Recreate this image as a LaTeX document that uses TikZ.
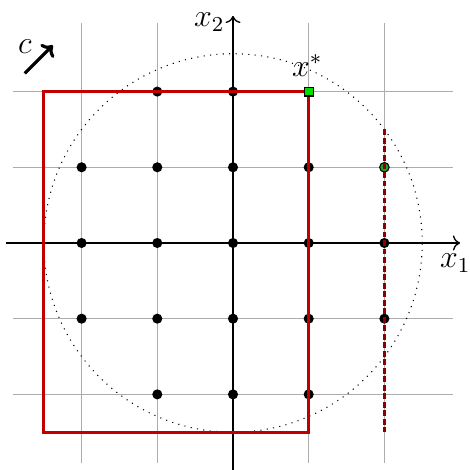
\documentclass[tikz,border=0pt]{standalone}
\usetikzlibrary{arrows.meta}
\definecolor{rectred}{HTML}{C00000}
\definecolor{dashred}{HTML}{8B0000}
\definecolor{ptgreen}{HTML}{00DD00}
\definecolor{ptgreendk}{HTML}{22A022}
\tikzset{
  gridline/.style={draw=gray!65, line width=0.4pt},
  axisline/.style={draw=black, line width=0.5pt, ->},
  ptdot/.style={circle, fill=black, inner sep=0pt, minimum size=3.8pt},
  feasrect/.style={draw=rectred, line width=1.1pt},
  cutline/.style={draw=dashred, line width=1.2pt, dash pattern=on 2.2pt off 1pt},
  ballcircle/.style={draw=black, line width=0.4pt, dotted},
  optsq/.style={rectangle, fill=ptgreen, draw=black, line width=0.4pt, inner sep=0pt, minimum size=3.3pt},
  optcirc/.style={circle, fill=ptgreendk, draw=black, line width=0.4pt, inner sep=0pt, minimum size=3.6pt},
  lbl/.style={font=\large, inner sep=1pt},
  carrow/.style={draw=black, line width=1.2pt, -{To[length=3.5pt,width=7pt]}}
}
\begin{document}
\begin{tikzpicture}
\useasboundingbox (-3.078,-2.999) rectangle (3.118,3.210);
% grid
\foreach \i in {-2,...,2} {
  \draw[gridline] (\i,-2.9) -- (\i,2.9);
  \draw[gridline] (-2.9,\i) -- (2.9,\i);
}
% axes
\coordinate (xs) at (-3,0);
\coordinate (xe) at (3,0);
\coordinate (ys) at (0,-3.05);
\coordinate (ye) at (0,3);
\draw[axisline] (xs) -- (xe);
\draw[axisline] (ys) -- (ye);
\node[lbl, anchor=north] (lx1) at ([xshift=-1.8pt,yshift=-3pt]xe) {$x_1$};
\node[lbl, anchor=east] (lx2) at ([xshift=-2pt,yshift=-2.2pt]ye) {$x_2$};
% dotted circle
\coordinate (o) at (0,0);
\draw[ballcircle] (o) circle (2.5);
% integer points
\foreach \a/\b in {-1/2,0/2,-2/1,-1/1,0/1,1/1,-2/0,-1/0,0/0,1/0,2/0,-2/-1,-1/-1,0/-1,1/-1,2/-1,-1/-2,0/-2,1/-2} {
  \node[ptdot] (p\a\b) at (\a,\b) {};
}
% feasible rectangle
\coordinate (r1) at (-2.5,-2.5);
\coordinate (r2) at (1,2);
\draw[feasrect] (r1) rectangle (r2);
% optimum markers
\node[optsq] (xstar) at (1,2) {};
\node[optcirc] (gpt) at (2,1) {};
% cut line
\coordinate (c1) at (2,1.5);
\coordinate (c2) at (2,-2.5);
\draw[cutline] (c1) -- (c2);
\node[lbl, anchor=south] (lxs) at ([xshift=-0.5pt,yshift=4.5pt]xstar.center) {$x^*$};
% objective direction
\coordinate (cs) at (-2.75,2.24);
\coordinate (ce) at (-2.38,2.61);
\draw[carrow] (cs) -- (ce);
\node[lbl] (lc) at (-2.75,2.60) {$c$};
\end{tikzpicture}
\end{document}
